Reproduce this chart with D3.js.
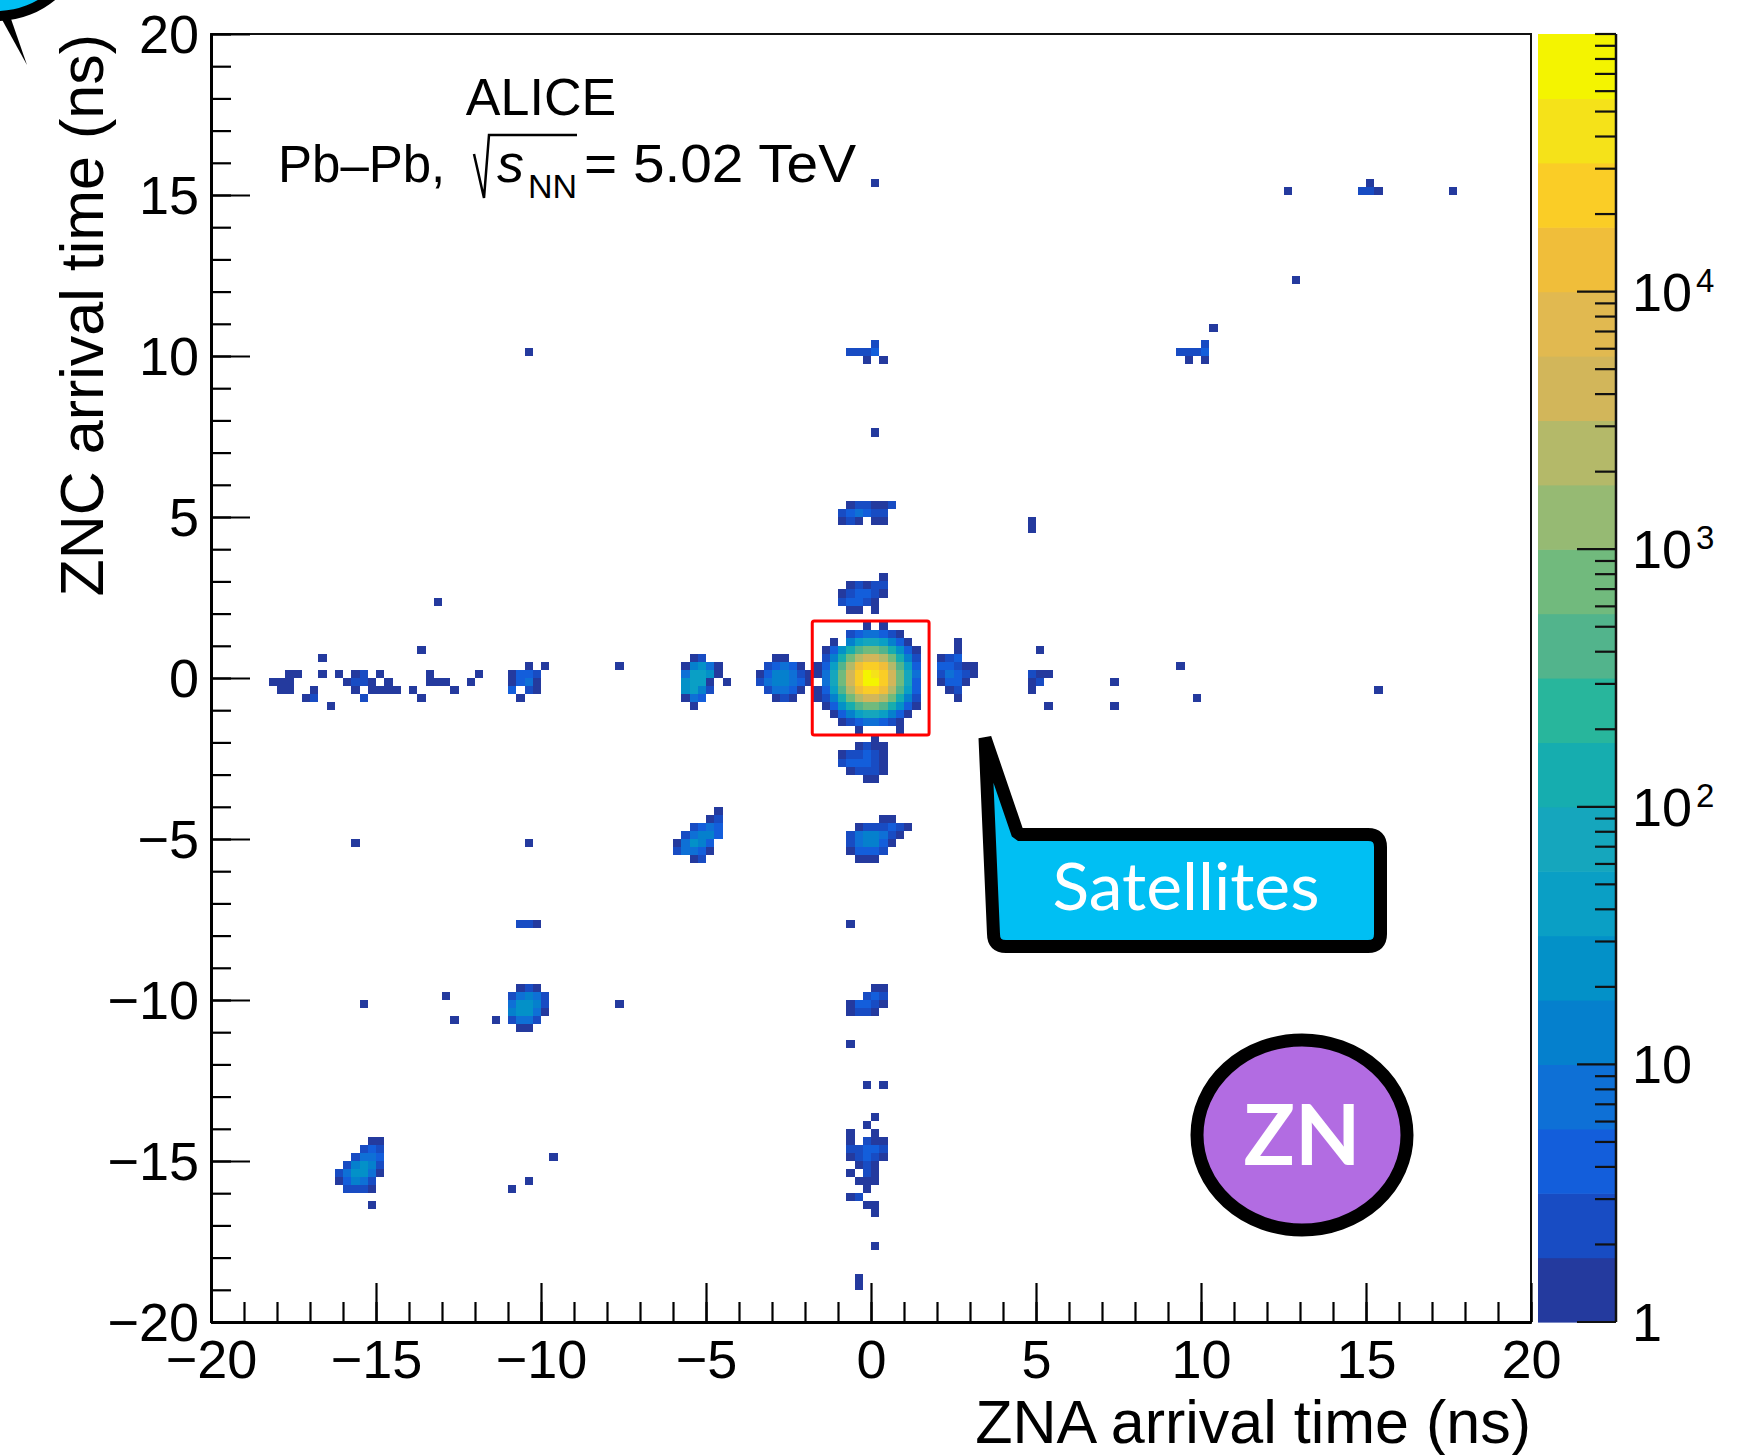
<!DOCTYPE html>
<html>
<head>
<meta charset="utf-8">
<script src="https://cdn.jsdelivr.net/npm/d3@7"></script>
<style>
  body { margin: 0; background: #fff; }
  svg { display: block; }
</style>
</head>
<body>
<svg id="chart" width="1757" height="1455"></svg>
<script>
// histogram binning (ns)
const binWidth = 0.25;

// rows: [iy, firstIx, counts...]  (bin ix covers [ix*0.25, (ix+1)*0.25) ns)
const mainBunch = [
  [6, -1, 1, 0, 1],
  [5, -3, 2, 4, 7, 7, 4, 2, 1],
  [4, -5, 1, 0, 13, 42, 75, 75, 42, 13, 4, 1],
  [3, -6, 1, 4, 24, 133, 420, 750, 750, 420, 133, 24, 4, 1],
  [2, -6, 2, 13, 133, 750, 2400, 4200, 4200, 2400, 750, 133, 13, 2],
  [1, -7, 1, 4, 42, 420, 2400, 13000, 24000, 24000, 13000, 2400, 420, 42, 4],
  [0, -7, 1, 7, 75, 750, 4200, 24000, 75000, 42000, 24000, 4200, 750, 75, 7],
  [-1, -7, 0, 7, 75, 750, 4200, 24000, 75000, 75000, 24000, 4200, 750, 75, 4],
  [-2, -7, 1, 4, 42, 420, 2400, 13000, 24000, 24000, 13000, 2400, 420, 42, 4],
  [-3, -7, 1, 2, 13, 133, 750, 2400, 4200, 4200, 2400, 750, 133, 13, 2],
  [-4, -6, 1, 4, 24, 133, 420, 750, 750, 420, 133, 24, 4, 1],
  [-5, -5, 1, 4, 13, 42, 75, 75, 42, 13, 4, 1],
  [-6, -4, 1, 2, 4, 7, 7, 4, 2, 1],
  [-7, -2, 1, 0, 0, 0, 0, 1],
  [-8, 0, 1]
];

// satellites along ZNC ~ 0 (horizontal band)
const satellitesRow = [
  // near -2.5 ns
  [2, -12, 1, 1],
  [1, -13, 2, 4, 7, 4, 1],
  [0, -14, 1, 4, 13, 13, 7, 2, 1],
  [-1, -14, 2, 7, 13, 13, 7, 4, 1],
  [-2, -13, 2, 7, 7, 4, 1],
  [-3, -12, 1, 2, 1],
  // near -5 ns
  [2, -22, 1, 2],
  [1, -23, 1, 13, 24, 7, 1],
  [0, -23, 7, 42, 42, 24, 1],
  [-1, -23, 24, 42, 42, 1, 0, 1],
  [-2, -23, 24, 42, 13, 2],
  [-3, -23, 1, 7, 4],
  [-4, -22, 1],
  // near -7.5 ns
  [1, -31, 1],
  // near -10 ns
  [1, -42, 1, 0, 1],
  [0, -44, 1, 4, 4, 2],
  [-1, -44, 1, 4, 7, 1],
  [-2, -44, 4, 0, 2, 1],
  [-3, -43, 1],
  // scattered -18 .. -12 ns
  [9, -53, 1],
  [3, -55, 1],
  [2, -67, 1],
  [0, -71, 1, 1], [0, -67, 1], [0, -65, 1], [0, -63, 1, 2], [0, -60, 1], [0, -54, 1], [0, -48, 1],
  [-1, -73, 1, 1, 1], [-1, -64, 1, 2, 2, 1], [-1, -59, 1], [-1, -54, 1, 1, 1], [-1, -49, 1],
  [-2, -72, 1, 1], [-2, -68, 1], [-2, -63, 1], [-2, -61, 1, 1, 1, 1], [-2, -56, 1], [-2, -51, 1],
  [-3, -69, 1, 2], [-3, -62, 2], [-3, -55, 1],
  [-4, -66, 1],
  // near +2.5 ns
  [4, 10, 1],
  [3, 10, 1],
  [2, 8, 1, 2, 4],
  [1, 8, 4, 4, 2, 1, 1],
  [0, 8, 2, 7, 4, 2, 1],
  [-1, 8, 1, 4, 4, 1],
  [-2, 9, 1, 2],
  [-3, 10, 1],
  // near +5 ns and beyond
  [3, 20, 1],
  [0, 19, 2, 1, 1],
  [-1, 19, 1, 2],
  [-2, 19, 1],
  [-4, 21, 1],
  [-1, 29, 1], [-4, 29, 1],
  [1, 37, 1], [-3, 39, 1],
  [-2, 61, 1]
];

// satellites along ZNA ~ 0 (vertical band)
const satellitesColumn = [
  [61, 0, 1],
  [41, 0, 2],
  [40, -3, 2, 2, 2, 4],
  [39, -1, 1, 0, 1],
  [30, 0, 1],
  [21, -3, 1, 2, 2, 1, 1, 2],
  [20, -4, 2, 4, 7, 4, 2, 2],
  [19, -4, 1, 2, 1, 0, 1, 1],
  [12, 1, 1],
  [11, -3, 1, 2, 1, 2, 2],
  [10, -4, 1, 2, 4, 4, 2, 1],
  [9, -4, 2, 4, 4, 2, 1],
  [8, -3, 1, 1, 0, 1],
  [-9, -2, 1, 2, 1, 1],
  [-10, -4, 1, 2, 2, 4, 2, 1],
  [-11, -4, 2, 4, 4, 4, 2, 1],
  [-12, -3, 1, 2, 2, 2, 1],
  [-13, -1, 1, 1],
  [-18, 1, 1, 1],
  [-19, -2, 1, 2, 2, 2, 4, 2, 1],
  [-20, -3, 2, 7, 13, 13, 7, 2, 1],
  [-21, -3, 2, 7, 13, 13, 4, 1],
  [-22, -3, 1, 4, 4, 4, 2],
  [-23, -2, 1, 1, 1],
  [-31, -3, 1],
  [-39, 0, 1, 1],
  [-40, -1, 2, 4, 2],
  [-41, -3, 1, 4, 4, 2, 1],
  [-42, -3, 1, 2, 2, 1],
  [-46, -3, 1],
  [-51, -1, 1, 0, 1],
  [-55, 0, 1],
  [-56, -1, 1],
  [-57, -3, 1, 0, 0, 1],
  [-58, -3, 1, 0, 2, 1, 1],
  [-59, -3, 2, 2, 4, 4, 2],
  [-60, -3, 1, 2, 4, 2, 1],
  [-61, -2, 1, 2, 1],
  [-62, -3, 1, 0, 2, 1],
  [-63, -2, 1, 1, 1],
  [-64, -1, 1],
  [-65, -3, 1, 2],
  [-66, -1, 1, 1],
  [-67, 0, 1],
  [-71, 0, 1],
  [-75, -2, 1],
  [-76, -2, 1]
];

// off-axis satellite collisions
const satellitesOther = [
  [61, 60, 1], [60, 59, 2, 2, 1],
  [60, 50, 1], [60, 70, 1],
  [49, 51, 1],
  [43, 41, 1],
  [41, 40, 2],
  [40, 37, 2, 2, 2, 4],
  [39, 38, 1, 0, 1],
  [40, -42, 1],
  [19, 19, 1], [18, 19, 1],
  [-17, -19, 1],
  [-18, -20, 1, 2],
  [-19, -22, 2, 4, 7, 4],
  [-20, -23, 2, 7, 13, 13, 4],
  [-21, -24, 1, 7, 24, 13, 4],
  [-22, -24, 2, 7, 7, 4, 1],
  [-23, -22, 1, 2],
  [-21, -63, 1], [-21, -42, 1],
  [-31, -43, 2, 2, 1],
  [-39, -43, 1, 2, 1],
  [-40, -44, 2, 7, 13, 7, 2],
  [-41, -44, 7, 24, 24, 13, 2],
  [-42, -44, 13, 24, 24, 7, 1],
  [-43, -44, 2, 7, 7, 2],
  [-44, -43, 1, 1],
  [-43, -46, 1], [-43, -51, 1], [-40, -52, 1], [-41, -62, 1], [-41, -31, 1],
  [-58, -61, 1, 1],
  [-59, -62, 2, 4, 2],
  [-60, -63, 2, 7, 7, 4],
  [-61, -64, 2, 13, 24, 13, 2],
  [-62, -65, 2, 7, 24, 24, 7, 1],
  [-63, -65, 1, 4, 13, 7, 2],
  [-64, -64, 2, 2, 2, 1],
  [-66, -61, 1],
  [-60, -39, 1], [-63, -42, 1], [-64, -44, 1]
];

const majorTicks = [-20, -15, -10, -5, 0, 5, 10, 15, 20];
const minorTicks = d3.range(-20, 21, 1);

// 20 palette bands, bottom (1) to top (1e5)
const bandColors = ['#243a9e', '#184cc3', '#135edb', '#0e70d6', '#0580cd', '#0391c8', '#0a9fc5',
  '#15a6bd', '#16adaf', '#28b69c', '#52b48c', '#71ba7d', '#96ba73', '#b4b969', '#d2b65a',
  '#e1b950', '#f0be3a', '#facd26', '#f5e219', '#f4f400'];
const zLabels = [
  { value: 1, base: '1', exp: '' },
  { value: 10, base: '10', exp: '' },
  { value: 100, base: '10', exp: '2' },
  { value: 1000, base: '10', exp: '3' },
  { value: 10000, base: '10', exp: '4' }
];
const redBox = { x0: -1.78, x1: 1.76, y0: -1.77, y1: 1.77 };

const plot = { left: 211, right: 1531, top: 34, bottom: 1322 };
const font = "'Liberation Sans', Arial, Helvetica, sans-serif";

const svg = d3.select('#chart');
svg.append('rect').attr('width', 1757).attr('height', 1455).attr('fill', '#fff');

const x = d3.scaleLinear().domain([-20, 20]).range([plot.left, plot.right]);
const y = d3.scaleLinear().domain([-20, 20]).range([plot.bottom, plot.top]);
const z = d3.scaleLog().domain([1, 1e5]).range([plot.bottom, plot.top]);
const color = d3.scaleQuantize().domain([0, 5]).range(bandColors);

function toBins(rows) {
  const out = [];
  rows.forEach(r => {
    const [iy, ix0, ...counts] = r;
    counts.forEach((c, j) => { if (c > 0) out.push({ ix: ix0 + j, iy: iy, c: c }); });
  });
  return out;
}
const bins = [mainBunch, satellitesRow, satellitesColumn, satellitesOther].flatMap(toBins);

// cells
const bx = v => Math.round(x(v * binWidth));
const by = v => Math.round(y(v * binWidth));
svg.append('g').selectAll('rect').data(bins).join('rect')
  .attr('x', d => bx(d.ix))
  .attr('y', d => by(d.iy + 1))
  .attr('width', d => bx(d.ix + 1) - bx(d.ix))
  .attr('height', d => by(d.iy) - by(d.iy + 1))
  .attr('fill', d => color(Math.log10(d.c)));

// frame
svg.append('rect')
  .attr('x', plot.left).attr('y', plot.top)
  .attr('width', plot.right - plot.left).attr('height', plot.bottom - plot.top)
  .attr('fill', 'none').attr('stroke', '#111').attr('stroke-width', 2);

// axes
function styleAxis(g) {
  g.attr('font-family', font).attr('font-size', 54);
  g.select('.domain').attr('stroke-width', 3);
  g.selectAll('.tick line').attr('stroke-width', 2.2);
}
svg.append('g').attr('transform', `translate(0,${plot.bottom})`)
  .call(d3.axisBottom(x).tickValues(minorTicks).tickSizeInner(-20).tickSizeOuter(0).tickFormat(''))
  .call(styleAxis);
svg.append('g').attr('transform', `translate(0,${plot.bottom})`)
  .call(d3.axisBottom(x).tickValues(majorTicks).tickSizeInner(-39).tickSizeOuter(0).tickPadding(18))
  .call(styleAxis);
svg.append('g').attr('transform', `translate(${plot.left},0)`)
  .call(d3.axisLeft(y).tickValues(minorTicks).tickSizeInner(-20).tickSizeOuter(0).tickFormat(''))
  .call(styleAxis);
svg.append('g').attr('transform', `translate(${plot.left},0)`)
  .call(d3.axisLeft(y).tickValues(majorTicks).tickSizeInner(-39).tickSizeOuter(0).tickPadding(12))
  .call(styleAxis)
  .selectAll('text').attr('dy', '0.35em');

// axis titles
svg.append('text')
  .attr('x', plot.right).attr('y', 1443)
  .attr('text-anchor', 'end')
  .attr('font-family', font).attr('font-size', 61)
  .text('ZNA arrival time (ns)');
svg.append('text')
  .attr('transform', `translate(103,${plot.top}) rotate(-90)`)
  .attr('text-anchor', 'end')
  .attr('font-family', font).attr('font-size', 61)
  .text('ZNC arrival time (ns)');

// colour bar
const cb = { x: 1538, w: 78 };
svg.append('g').selectAll('rect').data(bandColors).join('rect')
  .attr('x', cb.x).attr('width', cb.w)
  .attr('y', c => z(Math.pow(10, color.invertExtent(c)[1])))
  .attr('height', c => z(Math.pow(10, color.invertExtent(c)[0])) - z(Math.pow(10, color.invertExtent(c)[1])) + 0.6)
  .attr('fill', c => c);
svg.append('line')
  .attr('x1', cb.x + cb.w).attr('x2', cb.x + cb.w)
  .attr('y1', plot.top).attr('y2', plot.bottom)
  .attr('stroke', '#111').attr('stroke-width', 2.5);
svg.append('g').selectAll('line').data(z.ticks()).join('line')
  .attr('x1', d => cb.x + cb.w - (Number.isInteger(Math.log10(d)) && d < 1e5 ? 39 : 21))
  .attr('x2', cb.x + cb.w)
  .attr('y1', d => z(d)).attr('y2', d => z(d))
  .attr('stroke', '#111').attr('stroke-width', 2.2);
const zl = svg.append('g').attr('font-family', font).attr('font-size', 54)
  .selectAll('text').data(zLabels).join('text')
  .attr('x', 1632).attr('y', d => z(d.value) + 19);
zl.append('tspan').text(d => d.base);
zl.append('tspan').attr('dx', 4).attr('dy', -19).attr('font-size', 33).text(d => d.exp);

// ALICE label
svg.append('text').attr('x', 541).attr('y', 115).attr('text-anchor', 'middle')
  .attr('font-family', font).attr('font-size', 52).text('ALICE');
const sys = svg.append('g').attr('font-family', font);
sys.append('text').attr('x', 278).attr('y', 182).attr('font-size', 51).text('Pb–Pb,');
sys.append('path').attr('d', 'M474,154 L484,198 L489,135 L577,135')
  .attr('fill', 'none').attr('stroke', '#000').attr('stroke-width', 2.5);
sys.append('text').attr('x', 497).attr('y', 182).attr('font-size', 54)
  .attr('font-style', 'italic').text('s');
sys.append('text').attr('x', 528).attr('y', 198).attr('font-size', 34).text('NN');
sys.append('text').attr('x', 584).attr('y', 182).attr('font-size', 54)
  .attr('textLength', 272).attr('lengthAdjust', 'spacingAndGlyphs').text('= 5.02 TeV');

// red box around the main bunch
svg.append('rect')
  .attr('x', x(redBox.x0)).attr('y', y(redBox.y1))
  .attr('width', x(redBox.x1) - x(redBox.x0)).attr('height', y(redBox.y0) - y(redBox.y1))
  .attr('rx', 2).attr('fill', 'none').attr('stroke', '#ff0000').attr('stroke-width', 3);

// callouts
svg.append('circle').attr('cx', -3).attr('cy', -70).attr('r', 86)
  .attr('fill', '#00bff3').attr('stroke', '#000').attr('stroke-width', 10);
svg.append('path').attr('d', 'M0,16 L27,65 L10,16 Z').attr('fill', '#000');

svg.append('path')
  .attr('d', 'M985,738 L1018,834.5 H1368 Q1380.5,834.5 1380.5,847 V934 Q1380.5,946.5 1368,946.5 H1006 Q993.5,946.5 993.5,934 Z')
  .attr('fill', '#00bff3').attr('stroke', '#000').attr('stroke-width', 13).attr('stroke-linejoin', 'bevel');
svg.append('text').attr('x', 1186).attr('y', 910).attr('text-anchor', 'middle')
  .attr('font-family', 'Lato, "Open Sans", sans-serif').attr('font-size', 66)
  .attr('textLength', 267).attr('lengthAdjust', 'spacingAndGlyphs')
  .attr('fill', '#fff').text('Satellites');

svg.append('ellipse').attr('cx', 1302).attr('cy', 1135).attr('rx', 105).attr('ry', 95)
  .attr('fill', '#b26ce2').attr('stroke', '#000').attr('stroke-width', 13);
svg.append('text').attr('x', 1302).attr('y', 1165).attr('text-anchor', 'middle')
  .attr('font-family', 'Lato, sans-serif').attr('font-weight', 'bold').attr('font-size', 85)
  .attr('fill', '#fff').text('ZN');
</script>
</body>
</html>
